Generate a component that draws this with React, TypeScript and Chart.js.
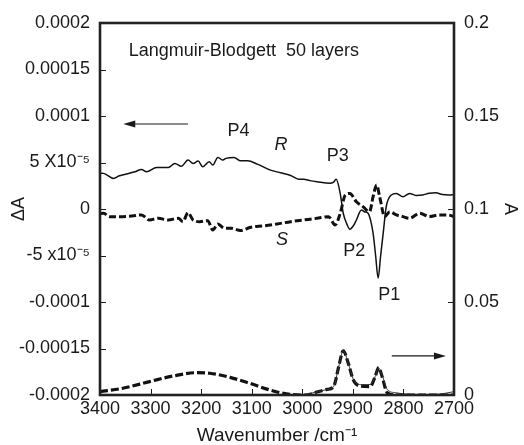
import React, { useEffect, useRef } from "react";
import { Chart, registerables } from "chart.js";

Chart.register(...registerables);

// ---- Data ----
// R-polarized difference spectrum (ΔA, units of 1e-5), left axis
const rWavenumbers = [3400, 3393, 3373, 3363, 3331, 3318, 3308, 3288, 3265, 3252, 3239, 3226, 3216, 3206, 3197, 3184, 3177, 3167, 3157, 3151, 3135, 3122, 3108, 3089, 3063, 3043, 3023, 3007, 2997, 2985, 2971, 2945, 2938, 2933, 2925, 2919, 2912, 2906, 2899, 2893, 2883, 2877, 2870, 2865, 2860, 2855, 2850, 2845, 2840, 2834, 2824, 2814, 2801, 2788, 2775, 2762, 2749, 2736, 2723, 2710, 2700];
const rValues = [3.85, 3.83, 3.29, 3.54, 4.0, 4.26, 4.0, 4.47, 4.47, 4.9, 4.6, 5.26, 4.9, 5.15, 4.54, 5.08, 4.72, 5.55, 5.26, 5.44, 5.55, 5.18, 5.18, 4.83, 4.18, 3.9, 3.6, 3.2, 3.19, 3.05, 2.93, 2.76, 2.9, 3.19, 1.68, -0.46, -1.6, -2.18, -1.8, -1.18, -0.1, -0.3, -0.46, -1.2, -2.6, -5.0, -7.44, -5.0, -2.6, 0.25, 1.5, 1.68, 1.32, 1.68, 1.45, 1.5, 1.7, 1.75, 1.55, 1.5, 1.55];

// S-polarized difference spectrum (ΔA, units of 1e-5), left axis
const sWavenumbers = [3400, 3393, 3381, 3363, 3337, 3318, 3302, 3285, 3265, 3245, 3236, 3226, 3216, 3203, 3187, 3177, 3167, 3154, 3141, 3122, 3102, 3076, 3050, 3023, 2997, 2971, 2948, 2935, 2925, 2915, 2906, 2893, 2880, 2867, 2860, 2853, 2847, 2837, 2827, 2814, 2801, 2788, 2768, 2749, 2729, 2713, 2700];
const sValues = [-0.5, -0.46, -0.82, -0.82, -0.75, -0.64, -1.18, -1.0, -1.18, -1.0, -1.36, -0.39, -1.18, -1.36, -1.25, -2.25, -1.61, -2.07, -2.07, -2.32, -1.96, -1.82, -1.61, -1.36, -1.18, -1.0, -0.82, -1.72, -0.46, 1.5, 1.68, 0.78, 0.25, -0.29, 1.32, 2.58, 1.32, -0.82, -0.29, -0.64, -0.82, -1.0, -0.46, -0.82, -0.64, -0.64, -0.8];

// Absorbance spectrum (dashed), right axis
const absDashWavenumbers = [3400, 3355, 3302, 3256, 3209, 3183, 3143, 3104, 3064, 3024, 2991, 2971, 2951, 2938, 2928, 2919, 2909, 2899, 2885, 2866, 2856, 2849, 2842, 2832, 2813, 2760, 2700];
const absDashValues = [0.0018, 0.0036, 0.0072, 0.0102, 0.012, 0.0117, 0.0095, 0.0063, 0.0027, 0.0003, 0.0, 0.0016, 0.003, 0.0045, 0.0152, 0.0238, 0.017, 0.0081, 0.0048, 0.0045, 0.0098, 0.0147, 0.0098, 0.0012, 0.0, 0.0, 0.0];

// Absorbance spectrum (thin solid), right axis
const absSolidWavenumbers = [3000, 2971, 2951, 2938, 2928, 2919, 2909, 2899, 2885, 2866, 2856, 2849, 2842, 2832, 2815, 2790, 2760, 2730, 2700];
const absSolidValues = [0.0, 0.0016, 0.003, 0.0045, 0.0152, 0.0238, 0.017, 0.0085, 0.0056, 0.0056, 0.0098, 0.0147, 0.0105, 0.003, 0.0012, 0.0004, 0.0, 0.0004, 0.0018];

// Tick labels
const xTickValues = [3400, 3300, 3200, 3100, 3000, 2900, 2800, 2700];
const leftTickLabels = ["-0.0002", "-0.00015", "-0.0001", "-5 x10\u207B\u2075", "0", "5 X10\u207B\u2075", "0.0001", "0.00015", "0.0002"];
const rightTickLabels = ["0", "0.05", "0.1", "0.15", "0.2"];

// Annotations: [text, wavenumber, ΔA (1e-5), italic]
const annotationTexts = ["P4", "R", "P3", "S", "P2", "P1"];
const annotationX = [3126, 3042, 2930, 3040, 2897, 2828];
const annotationY = [8.4, 6.9, 5.7, -3.35, -4.5, -9.25];
const annotationItalic = [false, true, false, true, false, false];

const titleText = "Langmuir-Blodgett  50 layers";
const titlePos = [3343, 16.95];
const leftArrow = [3226, 3354, 9.14]; // from wn, to wn, ΔA(1e-5)
const rightArrow = [2823, 2716, 0.021]; // from wn, to wn, A (right axis)

const FONT = "'Liberation Sans', Arial, Helvetica, sans-serif";
const INK = "#1a1a1a";

function arrow(ctx: CanvasRenderingContext2D, x1: number, y: number, x2: number) {
  const dir = Math.sign(x2 - x1);
  ctx.beginPath();
  ctx.moveTo(x1, y);
  ctx.lineTo(x2 - dir * 8, y);
  ctx.lineWidth = 1.2;
  ctx.strokeStyle = INK;
  ctx.stroke();
  ctx.beginPath();
  ctx.moveTo(x2, y);
  ctx.lineTo(x2 - dir * 12, y - 3.5);
  ctx.lineTo(x2 - dir * 12, y + 3.5);
  ctx.closePath();
  ctx.fillStyle = INK;
  ctx.fill();
}

const framePlugin = {
  id: "frameAndNotes",
  afterDatasetsDraw(chart: any) {
    const { ctx, chartArea: a, scales } = chart;
    const xs = scales.x, ys = scales.y, yr = scales.y1;
    ctx.save();
    // inward ticks
    ctx.strokeStyle = INK;
    ctx.lineWidth = 1;
    ctx.beginPath();
    ys.ticks.forEach((t: any) => {
      const p = Math.round(ys.getPixelForValue(t.value)) + 0.5;
      ctx.moveTo(a.left, p);
      ctx.lineTo(a.left + 6, p);
    });
    yr.ticks.forEach((t: any) => {
      const p = Math.round(yr.getPixelForValue(t.value)) + 0.5;
      ctx.moveTo(a.right, p);
      ctx.lineTo(a.right - 6, p);
    });
    xs.ticks.forEach((t: any) => {
      const p = Math.round(xs.getPixelForValue(t.value)) + 0.5;
      ctx.moveTo(p, a.bottom);
      ctx.lineTo(p, a.bottom - 6);
    });
    ctx.stroke();
    // frame
    ctx.lineWidth = 2.6;
    ctx.strokeStyle = "#222";
    ctx.strokeRect(a.left, a.top, a.right - a.left, a.bottom - a.top);

    // texts
    ctx.fillStyle = INK;
    ctx.textBaseline = "middle";
    ctx.textAlign = "left";
    ctx.font = `18px ${FONT}`;
    ctx.fillText(titleText, xs.getPixelForValue(titlePos[0]), ys.getPixelForValue(titlePos[1]));
    ctx.textAlign = "center";
    annotationTexts.forEach((txt, i) => {
      ctx.font = `${annotationItalic[i] ? "italic " : ""}18px ${FONT}`;
      ctx.fillText(txt, xs.getPixelForValue(annotationX[i]), ys.getPixelForValue(annotationY[i]));
    });
    // arrows
    arrow(ctx, xs.getPixelForValue(leftArrow[0]), ys.getPixelForValue(leftArrow[2]), xs.getPixelForValue(leftArrow[1]));
    arrow(ctx, xs.getPixelForValue(rightArrow[0]), yr.getPixelForValue(rightArrow[2]), xs.getPixelForValue(rightArrow[1]));
    ctx.restore();
  },
};

export default function App() {
  const ref = useRef<HTMLCanvasElement | null>(null);
  useEffect(() => {
    if (!ref.current) return;
    Chart.defaults.font.family = FONT;
    Chart.defaults.color = INK;
    const pts = (xs: number[], ys: number[], k = 1) => xs.map((x, i) => ({ x, y: ys[i] * k }));
    const chart = new Chart(ref.current, {
      type: "line",
      data: {
        datasets: [
          {
            label: "R",
            data: pts(rWavenumbers, rValues),
            yAxisID: "y",
            borderColor: "#111",
            borderWidth: 1.5,
            pointRadius: 0,
            cubicInterpolationMode: "monotone",
          },
          {
            label: "S",
            data: pts(sWavenumbers, sValues),
            yAxisID: "y",
            borderColor: "#111",
            borderWidth: 3,
            borderDash: [7, 3],
            pointRadius: 0,
            cubicInterpolationMode: "monotone",
          },
          {
            label: "A solid",
            data: pts(absSolidWavenumbers, absSolidValues),
            yAxisID: "y1",
            borderColor: "#333",
            borderWidth: 1,
            pointRadius: 0,
            cubicInterpolationMode: "monotone",
          },
          {
            label: "A dashed",
            data: pts(absDashWavenumbers, absDashValues),
            yAxisID: "y1",
            borderColor: "#111",
            borderWidth: 3.2,
            borderDash: [8, 3],
            pointRadius: 0,
            cubicInterpolationMode: "monotone",
          },
        ],
      },
      options: {
        animation: false,
        responsive: false,
        maintainAspectRatio: false,
        layout: { padding: { top: 23, left: 0, right: 0, bottom: 0 } },
        plugins: { legend: { display: false }, tooltip: { enabled: false } },
        scales: {
          x: {
            type: "linear",
            reverse: true,
            min: 2700,
            max: 3400,
            afterBuildTicks: (s: any) => {
              s.ticks = xTickValues.map((v) => ({ value: v }));
            },
            ticks: { font: { size: 18 }, color: INK, padding: 3, maxRotation: 0, autoSkip: false, callback: (v: any) => String(v) },
            grid: { display: false, drawTicks: false },
            border: { display: false },
            title: { display: true, text: "Wavenumber /cm\u207B\u00B9", font: { size: 19, lineHeight: 1 }, color: INK, padding: { top: 0, bottom: 0 } },
            afterFit: (s: any) => { s.height = 50; },
          },
          y: {
            type: "linear",
            position: "left",
            min: -20,
            max: 20,
            ticks: { stepSize: 5, font: { size: 18 }, color: INK, padding: 10, callback: (_v: any, i: number) => leftTickLabels[i] },
            grid: { display: false, drawTicks: false },
            border: { display: false },
            title: { display: true, text: "\u0394A", font: { size: 18 }, color: INK, padding: { top: 8, bottom: 0 } },
            afterFit: (s: any) => { s.width = 100; },
          },
          y1: {
            type: "linear",
            position: "right",
            min: 0,
            max: 0.2,
            ticks: { stepSize: 0.05, font: { size: 18 }, color: INK, padding: 10, callback: (_v: any, i: number) => rightTickLabels[i] },
            grid: { display: false, drawTicks: false },
            border: { display: false },
            title: { display: true, text: "A", font: { size: 18 }, color: INK, padding: { top: 3, bottom: 0 } },
            afterFit: (s: any) => { s.width = 70; },
          },
        },
      },
      plugins: [framePlugin],
    } as any);
    return () => chart.destroy();
  }, []);
  return (
    <div style={{ position: "fixed", left: 0, top: 0, width: 524, height: 445, background: "#fff" }}>
      <canvas ref={ref} width={524} height={445} style={{ display: "block" }} />
    </div>
  );
}
